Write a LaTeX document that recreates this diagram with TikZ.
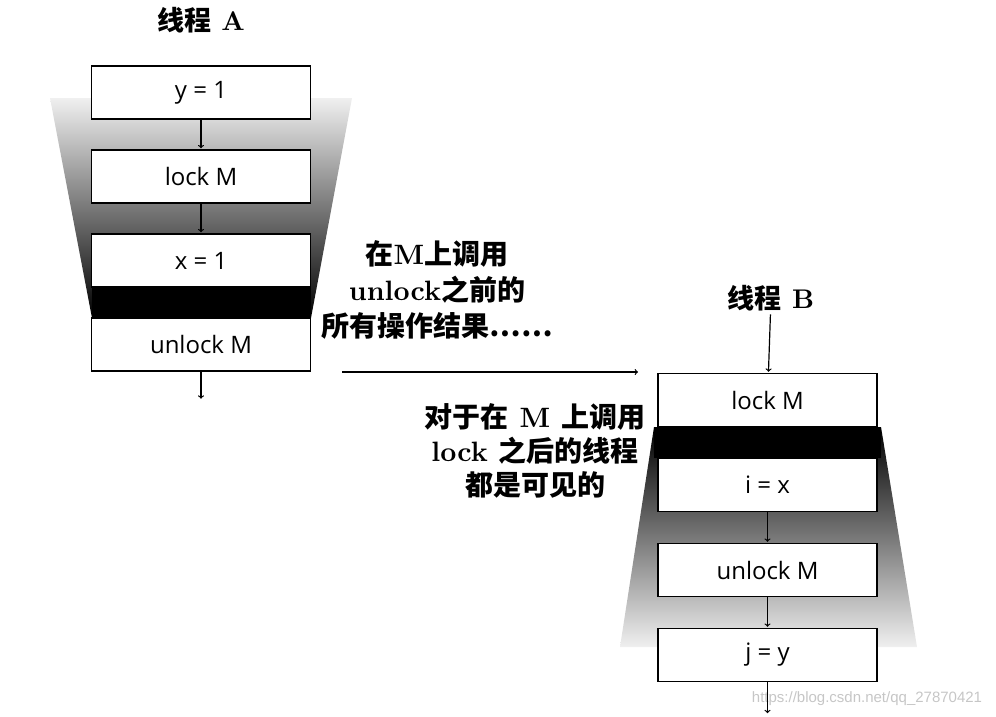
\documentclass[tikz,border=0pt]{standalone}
\usepackage{fontspec}
\newfontfamily\cjk{Noto Sans CJK SC}
\newfontfamily\lmbx{lmroman10-bold}[Extension=.otf]
\newfontfamily\opfont{Open Sans}
\newfontfamily\wmfont{Liberation Sans}
\usetikzlibrary{positioning}
\newcommand{\zh}[1]{{\cjk\bfseries #1}}

\begin{document}
\begin{tikzpicture}[x=1pt,y=1pt,shorten >=1pt,node distance=84pt,on grid,auto,
  op/.style={draw,line width=1.4pt,fill=white,minimum width=219pt,minimum height=53pt,
    inner sep=0pt,font=\opfont\fontsize{24}{24}\selectfont},
  title/.style={font=\lmbx\fontsize{27}{27}\selectfont},
  note/.style={align=center,font=\lmbx\fontsize{28}{36}\selectfont},
  flow/.style={->,line width=1.2pt}]
  \useasboundingbox (0,0) rectangle (996,-717);
  % shade behind thread A
  \shade[top color=gray!12,middle color=gray!70,bottom color=black]
    (50,-98) -- (352,-98) -- (311,-318) -- (92,-318) -- cycle;
  \fill (92,-286) rectangle (311,-318);
  % shade behind thread B
  \shade[top color=black,middle color=gray!70,bottom color=gray!12]
    (654,-427) -- (881,-427) -- (917,-647) -- (620,-647) -- cycle;
  \fill (654,-427) rectangle (881,-458);

  \node[title] (t_A) at (201,-20) {\zh{线程} A};
  \node[op] (a_0) at (201,-92.5) {y = 1};
  \node[op] (a_1) [below=of a_0] {lock M};
  \node[op] (a_2) [below=of a_1] {x = 1};
  \node[op] (a_3) [below=of a_2] {unlock M};
  \coordinate (a_4) at ([yshift=-28pt]a_3.south);

  \node[title] (t_B) at (771,-298) {\zh{线程} B};
  \node[op] (b_0) at (767.5,-400) {lock M};
  \node[op] (b_1) [below=85pt of b_0] {i = x};
  \node[op] (b_2) [below=85pt of b_1] {unlock M};
  \node[op] (b_3) [below=85pt of b_2] {j = y};
  \coordinate (b_4) at ([yshift=-32pt]b_3.south);

  \coordinate (r_A) at (342,-372);
  \coordinate (r_B) at (639,-372);

  \node[note] (n_A) at (437,-290) {\zh{在}M\zh{上调用}\\unlock\zh{之前的}\\\zh{所有操作结果……}};
  \node[note,font=\lmbx\fontsize{28}{34}\selectfont] (n_B) at (535,-451)
    {\zh{对于在} M \zh{上调用}\\lock \zh{之后的线程}\\\zh{都是可见的}};
  \node[font=\wmfont\fontsize{15}{15}\selectfont,text=gray!45] (w_m) at (867,-699)
    {https://blog.csdn.net/qq\_27870421};

  \path[flow]
  (a_0) edge (a_1)
  (a_1) edge (a_2)
  (a_2) edge (a_3)
  (a_3) edge (a_4)
  (t_B) edge (b_0)
  (b_0) edge (b_1)
  (b_1) edge (b_2)
  (b_2) edge (b_3)
  (b_3) edge (b_4)
  (r_A) edge (r_B);
\end{tikzpicture}
\end{document}
